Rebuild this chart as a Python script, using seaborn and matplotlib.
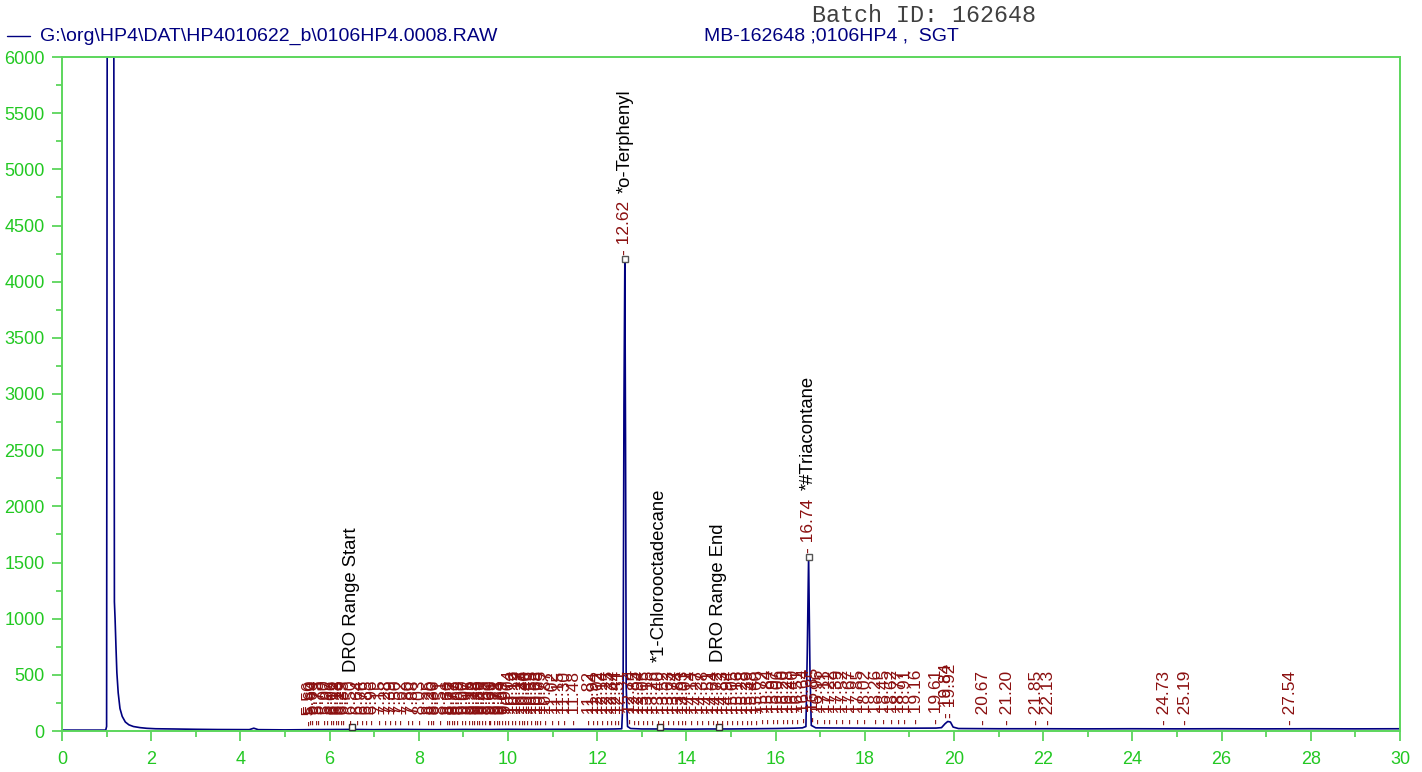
import numpy as np
import pandas as pd
import matplotlib
matplotlib.use("Agg")
import matplotlib.pyplot as plt
import seaborn as sns
from matplotlib.lines import Line2D
from matplotlib.ticker import MultipleLocator

# ---------------- data ----------------
trace_time = [0.0, 0.5, 0.98, 1.00, 1.015, 1.16, 1.175, 1.19, 1.21, 1.23, 1.26, 1.30,
              1.35, 1.42, 1.50, 1.60, 1.75, 1.90, 2.10, 2.50, 3.00, 3.50, 4.20, 4.30,
              4.40, 5.00, 5.60, 6.50, 7.00, 7.60, 8.40, 9.00, 9.60, 10.00, 10.60, 11.00,
              11.60, 12.00, 12.40, 12.55, 12.58, 12.60, 12.62, 12.635, 12.65, 12.68,
              12.75, 13.00, 13.50, 14.00, 14.50, 15.00, 15.50, 16.00, 16.40, 16.60,
              16.68, 16.71, 16.74, 16.77, 16.80, 16.90, 17.20, 17.80, 18.40, 19.00,
              19.60, 19.72, 19.80, 19.86, 19.92, 19.98, 20.10, 21.00, 22.00, 23.00,
              24.00, 25.00, 26.00, 27.00, 28.00, 29.00, 30.00]
trace_signal = [8, 8, 8, 40, 7000, 7000, 1150, 1000, 750, 520, 340, 200,
                130, 80, 55, 40, 30, 24, 20, 18, 15, 13, 12, 25,
                12, 10, 12, 14, 12, 14, 12, 14, 13, 15, 14, 15,
                16, 16, 18, 20, 300, 2900, 4200, 2600, 400, 40,
                22, 18, 18, 16, 18, 18, 20, 22, 25, 28,
                40, 700, 1550, 550, 50, 28, 27, 26, 25, 25,
                26, 30, 65, 85, 80, 35, 22, 20, 20, 19,
                20, 19, 20, 19, 20, 19, 20]

peak_times = [5.56, 5.60, 5.64, 5.73, 5.78, 5.90, 5.97, 6.06, 6.12, 6.18, 6.23, 6.29,
              6.33, 6.50, 6.64, 6.76, 6.85, 6.96, 7.15, 7.28, 7.39, 7.50, 7.62, 7.80,
              7.88, 8.03, 8.25, 8.30, 8.36, 8.51, 8.66, 8.72, 8.77, 8.83, 8.89, 9.00,
              9.07, 9.15, 9.22, 9.28, 9.33, 9.39, 9.45, 9.52, 9.60, 9.63, 9.71, 9.78,
              9.84, 9.89, 9.97, 10.04, 10.12, 10.19, 10.27, 10.34, 10.40, 10.46, 10.55,
              10.63, 10.68, 10.75, 10.87, 11.02, 11.15, 11.30, 11.48, 11.82, 11.94,
              12.02, 12.14, 12.25, 12.34, 12.44, 12.51, 12.62, 12.74, 12.85, 12.94,
              13.05, 13.15, 13.26, 13.40, 13.52, 13.63, 13.74, 13.84, 13.93, 14.01,
              14.14, 14.27, 14.38, 14.51, 14.64, 14.72, 14.83, 14.94, 15.05, 15.16,
              15.28, 15.39, 15.48, 15.60, 15.72, 15.84, 15.97, 16.06, 16.20, 16.28,
              16.40, 16.51, 16.64, 16.74, 16.85, 16.96, 17.11, 17.22, 17.39, 17.52,
              17.67, 17.85, 18.02, 18.26, 18.45, 18.62, 18.77, 18.91, 19.16, 19.61,
              19.84, 19.92, 20.67, 21.20, 21.85, 22.13, 24.73, 25.19, 27.54]

named_times = [6.50, 12.62, 13.40, 14.72, 16.74]
named_labels = ["DRO Range Start", "*o-Terphenyl", "*1-Chlorooctadecane",
                "DRO Range End", "*#Triacontane"]
apex_times = [12.62, 16.74]
bracket_times = [6.50, 13.40, 14.72]

x_major, x_minor = 2, 1
y_major, y_minor = 500, 250

header_file = "G:\\org\\HP4\\DAT\\HP4010622_b\\0106HP4.0008.RAW"
header_sample = "MB-162648 ;0106HP4 ,  SGT"
header_batch = "Batch ID: 162648"

# ---------------- styling ----------------
sns.set_theme(style="white")
plt.rcParams['font.family'] = ['Liberation Sans', 'DejaVu Sans']

W, H = 1422, 772
NAVY = '#000080'
RED = '#8B1010'
GREEN_LBL = '#22C822'
GREEN_AX = '#5CD65C'

fig = plt.figure(figsize=(W / 100, H / 100), dpi=100)
ax = fig.add_axes([62 / W, 1 - 731 / H, (1400 - 62) / W, (731 - 57) / H])

df = pd.DataFrame({'time': trace_time, 'signal': trace_signal})
sns.lineplot(data=df, x='time', y='signal', ax=ax, color=NAVY, lw=1.2,
             estimator=None, sort=False, legend=False)

ax.set_xlim(0, 30)
ax.set_ylim(0, 6000)
ax.set_xlabel('')
ax.set_ylabel('')
ax.xaxis.set_major_locator(MultipleLocator(x_major))
ax.xaxis.set_minor_locator(MultipleLocator(x_minor))
ax.yaxis.set_major_locator(MultipleLocator(y_major))
ax.yaxis.set_minor_locator(MultipleLocator(y_minor))
ax.tick_params(axis='both', which='major', direction='out', length=7.5, width=1.3,
               color=GREEN_AX, labelcolor=GREEN_LBL, labelsize=13,
               bottom=True, left=True)
ax.tick_params(axis='both', which='minor', direction='out', length=4, width=1.3,
               color=GREEN_AX, bottom=True, left=True)
ax.tick_params(axis='x', which='major', pad=7)
ax.tick_params(axis='y', which='major', pad=5)
for s in ax.spines.values():
    s.set_color(GREEN_AX)
    s.set_linewidth(1.4)
ax.grid(False)

# apex / bracket markers
apex_h = np.interp(apex_times, trace_time, trace_signal)
ax.plot(apex_times, apex_h, ls='none', marker='s', ms=4.5, mfc='white',
        mec='#555555', mew=1.0, zorder=4, clip_on=False)
ax.plot(bracket_times, [35] * len(bracket_times), ls='none', marker='s', ms=5,
        mfc='white', mec='#333333', mew=1.0, zorder=4)

# peak labels
label_artists = {}
for t in peak_times:
    h = float(np.interp(t, trace_time, trace_signal))
    a = ax.annotate(f"- {t:.2f}", xy=(t, h), xytext=(0, 3),
                    textcoords='offset points', rotation=90, ha='center',
                    va='bottom', color=RED, fontsize=12.5,
                    annotation_clip=False, zorder=5)
    label_artists[t] = a

for t, name in zip(named_times, named_labels):
    ax.annotate(name, xy=(0.5, 1.0), xycoords=label_artists[t],
                xytext=(0, 6), textcoords='offset points', rotation=90,
                ha='center', va='bottom', color='black', fontsize=13.3,
                annotation_clip=False, zorder=6)

# header
fig.add_artist(Line2D([7 / W, 30 / W], [1 - 36 / H] * 2, color=NAVY, lw=1.0,
                      transform=fig.transFigure))
fig.text(40 / W, 1 - 36 / H, header_file, color=NAVY, fontsize=14,
         ha='left', va='center')
fig.text(704 / W, 1 - 36 / H, header_sample, color=NAVY, fontsize=14,
         ha='left', va='center')
fig.text(812 / W, 1 - 15 / H, header_batch, color='#404040', fontsize=16.8,
         family=['Liberation Mono', 'DejaVu Sans Mono'], ha='left', va='center')

fig.savefig('out.png', dpi=100)
